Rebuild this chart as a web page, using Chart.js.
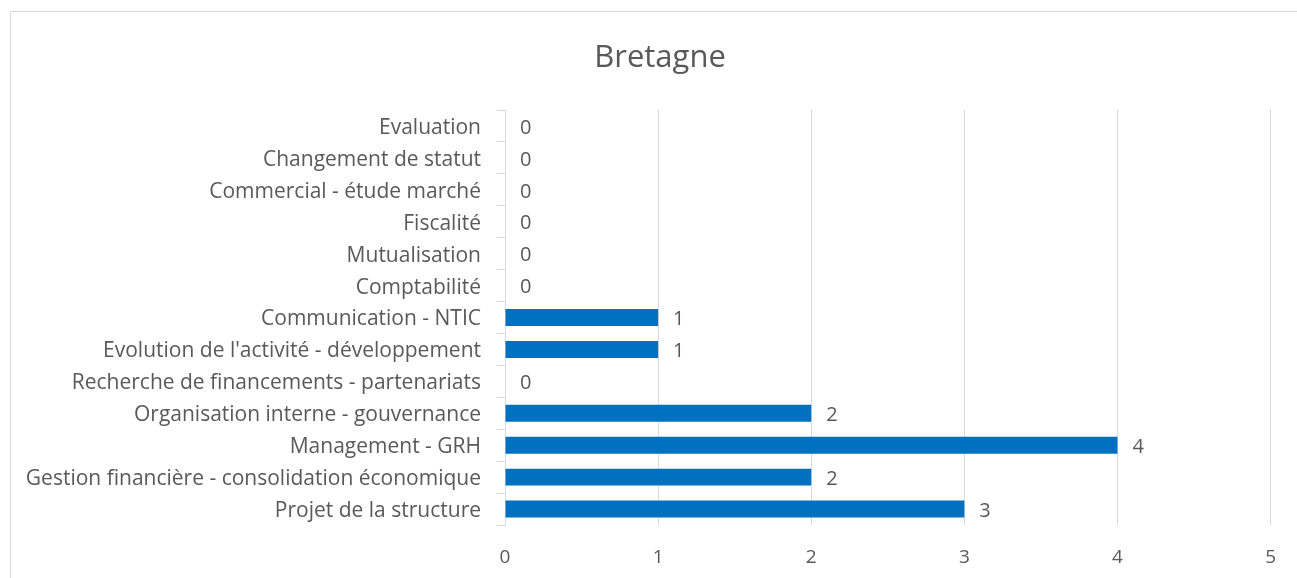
<!DOCTYPE html>
<html>
<head>
<meta charset="utf-8">
<script src="https://cdn.jsdelivr.net/npm/chart.js@4/dist/chart.umd.min.js"></script>
<style>
html,body{margin:0;padding:0;background:#fff;}
#wrap{width:1297px;height:578px;position:relative;}
</style>
</head>
<body>
<div id="wrap"><canvas id="c" width="1297" height="578"></canvas></div>
<script>
const titleText = "Bretagne";
const categories = [
  "Evaluation",
  "Changement de statut",
  "Commercial - étude marché",
  "Fiscalité",
  "Mutualisation",
  "Comptabilité",
  "Communication - NTIC",
  "Evolution de l'activité - développement",
  "Recherche de financements - partenariats",
  "Organisation interne - gouvernance",
  "Management - GRH",
  "Gestion financière - consolidation économique",
  "Projet de la structure"
];
const values = [0, 0, 0, 0, 0, 0, 1, 1, 0, 2, 4, 2, 3];
const xTicks = [0, 1, 2, 3, 4, 5];

const FONT = "'Open Sans', sans-serif";
const TEXT = "#595959";
const GRID = "#d9d9d9";

const frame = {
  id: 'frame',
  afterLayout(chart) {
    // centre the title on the chart frame (which starts at x=10 and extends past the right edge)
    if (chart.titleBlock) { chart.titleBlock.left = 46; chart.titleBlock.right = 1274; }
  },
  beforeDraw(chart) {
    const ctx = chart.ctx;
    ctx.save();
    ctx.fillStyle = '#fff';
    ctx.fillRect(0, 0, chart.width, chart.height);
    ctx.strokeStyle = GRID;
    ctx.lineWidth = 1;
    ctx.strokeRect(10.5, 11.5, chart.width + 20, chart.height + 20);
    ctx.restore();
  }
};

const valueLabels = {
  id: 'valueLabels',
  afterDatasetsDraw(chart) {
    const ctx = chart.ctx;
    const meta = chart.getDatasetMeta(0);
    ctx.save();
    ctx.font = "20px " + FONT;
    ctx.fillStyle = TEXT;
    ctx.textAlign = 'left';
    ctx.textBaseline = 'middle';
    meta.data.forEach((bar, i) => {
      ctx.fillText(String(values[i]), bar.x + 15, bar.y + 2);
    });
    ctx.restore();
  }
};

new Chart(document.getElementById('c'), {
  type: 'bar',
  data: {
    labels: categories,
    datasets: [{
      data: values,
      backgroundColor: '#0070c0',
      borderWidth: 0,
      barPercentage: 0.53,
      categoryPercentage: 1.0
    }]
  },
  options: {
    indexAxis: 'y',
    responsive: false,
    animation: false,
    layout: { padding: { left: 0, right: 15, top: 0, bottom: 0 } },
    plugins: {
      legend: { display: false },
      tooltip: { enabled: false },
      title: {
        display: true,
        text: titleText,
        color: TEXT,
        font: { family: FONT, size: 31, weight: 'normal', lineHeight: 1.2 },
        padding: { top: 40, bottom: 32.8 }
      }
    },
    scales: {
      x: {
        min: 0,
        max: 5,
        afterBuildTicks(scale) { scale.ticks = xTicks.map(v => ({ value: v })); },
        afterFit(scale) { scale.height = 53; },
        border: { display: false },
        grid: { color: GRID, lineWidth: 1, drawTicks: false },
        ticks: { color: TEXT, font: { family: FONT, size: 19 }, padding: 21 }
      },
      y: {
        afterFit(scale) { scale.width = 505; },
        border: { display: true, color: GRID, width: 1 },
        grid: { drawOnChartArea: false, color: GRID, tickLength: 8, offset: true },
        ticks: { color: TEXT, font: { family: FONT, size: 21 }, padding: 16, autoSkip: false, labelOffset: 2 }
      }
    }
  },
  plugins: [frame, valueLabels]
});
</script>
</body>
</html>
